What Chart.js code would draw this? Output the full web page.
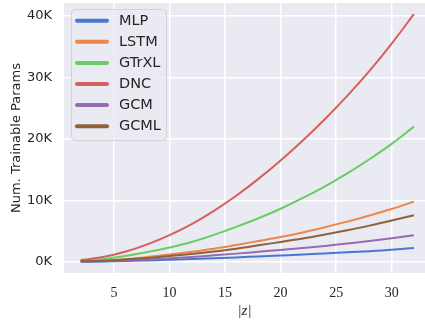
<!DOCTYPE html>
<html>
<head>
<meta charset="utf-8">
<script src="https://cdn.jsdelivr.net/npm/chart.js@4"></script>
<style>
  html, body { margin: 0; padding: 0; background: #fff; }
  #wrap { width: 425px; height: 320px; }
</style>
</head>
<body>
<div id="wrap"><canvas id="c" width="425" height="320"></canvas></div>
<script>
// |z| sizes and trainable params (in thousands)
const zSizes = [2, 4, 6, 8, 10, 12, 14, 16, 18, 20, 22, 24, 26, 28, 30, 32];
const mlp   = [0.03, 0.08, 0.15, 0.25, 0.36, 0.48, 0.60, 0.74, 0.90, 1.05, 1.20, 1.38, 1.56, 1.75, 1.98, 2.28];
const lstm  = [0.10, 0.25, 0.45, 0.80, 1.20, 1.65, 2.15, 2.75, 3.40, 4.05, 4.80, 5.65, 6.55, 7.55, 8.60, 9.80];
const gtrxl = [0.15, 0.45, 0.95, 1.60, 2.35, 3.25, 4.40, 5.70, 7.10, 8.65, 10.4, 12.3, 14.4, 16.7, 19.2, 22.0];
const dnc   = [0.30, 0.80, 1.65, 2.85, 4.35, 6.15, 8.30, 10.75, 13.5, 16.5, 19.75, 23.25, 27.0, 31.05, 35.5, 40.3];
const gcm   = [0.05, 0.12, 0.25, 0.40, 0.60, 0.82, 1.08, 1.35, 1.65, 1.95, 2.25, 2.60, 3.00, 3.40, 3.85, 4.35];
const gcml  = [0.10, 0.20, 0.38, 0.62, 0.95, 1.30, 1.70, 2.15, 2.70, 3.25, 3.80, 4.45, 5.15, 5.90, 6.75, 7.60];

const seriesNames = ['MLP', 'LSTM', 'GTrXL', 'DNC', 'GCM', 'GCML'];
const seriesData  = [mlp, lstm, gtrxl, dnc, gcm, gcml];
const xTicks = [5, 10, 15, 20, 25, 30];
const yTicks = [0, 10, 20, 30, 40];

// seaborn "muted"
const colors = ['#4878D0', '#EE854A', '#6ACC64', '#D65F5F', '#956CB4', '#8C613C'];
const BG = '#EAEAF2';
const INK = '#262626';

const datasets = seriesData.map((vals, i) => ({
  label: seriesNames[i],
  data: vals.map((v, j) => ({ x: zSizes[j], y: v })),
  borderColor: colors[i],
  backgroundColor: colors[i],
  borderWidth: 2,
  pointRadius: 0,
  cubicInterpolationMode: 'monotone',
  order: seriesData.length - 1 - i   // last series on top, like matplotlib
}));

// plot background
const areaBg = {
  id: 'areaBg',
  beforeDraw(chart) {
    const { ctx, chartArea: a } = chart;
    ctx.save();
    ctx.fillStyle = BG;
    ctx.fillRect(a.left, a.top, a.right - a.left, a.bottom - a.top);
    ctx.restore();
  }
};

// legend in the upper-left corner of the plot
const boxLegend = {
  id: 'boxLegend',
  afterDatasetsDraw(chart) {
    const { ctx } = chart;
    const x = 71, y = 9, w = 95, h = 131, r = 4;
    ctx.save();
    ctx.beginPath();
    ctx.roundRect(x + 0.5, y + 0.5, w, h, r);
    ctx.fillStyle = 'rgba(234,234,242,0.8)';
    ctx.fill();
    ctx.strokeStyle = '#D2D2D8';
    ctx.lineWidth = 1;
    ctx.stroke();
    ctx.font = '14.5px "DejaVu Sans"';
    ctx.textBaseline = 'middle';
    ctx.lineCap = 'round';
    chart.data.datasets.forEach((ds, i) => {
      const cy = 20.7 + i * 21.1;
      ctx.strokeStyle = ds.borderColor;
      ctx.lineWidth = 4;
      ctx.beginPath();
      ctx.moveTo(77, cy);
      ctx.lineTo(107, cy);
      ctx.stroke();
      ctx.fillStyle = INK;
      ctx.fillText(ds.label, 119, cy + 0.5);
    });
    ctx.restore();
  }
};

new Chart(document.getElementById('c'), {
  type: 'line',
  data: { datasets },
  options: {
    responsive: false,
    animation: false,
    layout: { padding: { top: 3, right: 0, left: 0, bottom: 0 } },
    plugins: { legend: { display: false }, tooltip: { enabled: false } },
    scales: {
      x: {
        type: 'linear',
        min: 0.5,
        max: 33,
        afterBuildTicks: (s) => { s.ticks = xTicks.map(v => ({ value: v })); },
        afterFit: (s) => { s.height = 47; s.paddingLeft = 0; s.paddingRight = 0; },
        grid: { color: '#FFFFFF', lineWidth: 1.5, drawTicks: false },
        border: { display: false },
        ticks: { color: INK, padding: 12, font: { family: '"Liberation Serif"', size: 14 } },
        title: {
          display: true, text: '|z|', color: INK,
          padding: { top: 0, bottom: 0 },
          font: { family: '"Liberation Serif"', size: 15, style: 'italic' }
        }
      },
      y: {
        min: -1.8,
        max: 42.1,
        afterBuildTicks: (s) => { s.ticks = yTicks.map(v => ({ value: v })); },
        afterFit: (s) => { s.width = 64; s.paddingTop = 0; s.paddingBottom = 0; },
        grid: { color: '#FFFFFF', lineWidth: 1.5, drawTicks: false },
        border: { display: false },
        ticks: {
          color: INK, padding: 12,
          font: { family: '"DejaVu Sans"', size: 13 },
          callback: v => v + 'K'
        },
        title: {
          display: true, text: 'Num. Trainable Params', color: INK,
          padding: { top: 9, bottom: 0 },
          font: { family: '"DejaVu Sans"', size: 13 }
        }
      }
    }
  },
  plugins: [areaBg, boxLegend]
});
</script>
</body>
</html>
